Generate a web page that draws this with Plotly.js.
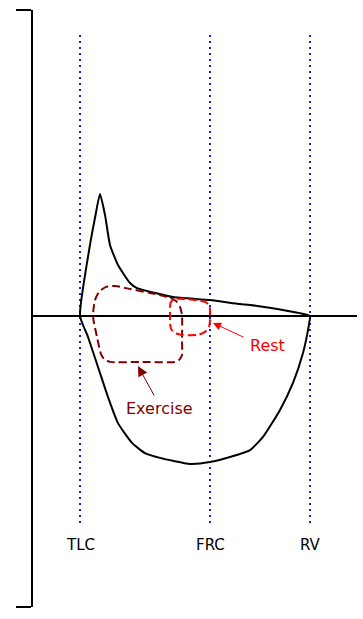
<!DOCTYPE html>
<html>
<head>
<meta charset="utf-8">
<script src="https://cdn.plot.ly/plotly-3.0.1.min.js"></script>
<style>html,body{margin:0;padding:0;background:#fff;}#chart{width:363px;height:619px;}</style>
</head>
<body>
<div id="chart"></div>
<script>
// Lung volume markers (volume units, TLC at 0)
var volumeLabels = ["TLC", "FRC", "RV"];
var volumeValues = [0, 3.9, 6.9];

// Maximal flow-volume loop (TLC -> peak -> RV -> inspiratory limb -> TLC)
var maxLoopVolume = [0, 0.3, 0.45, 0.6, 0.75, 0.9, 1.14, 1.5, 1.71, 2.25, 2.79, 3.9, 4.8, 5.1, 6.09, 6.84, 6.9,
  6.84, 6.69, 6.39, 6.0, 5.49, 5.1, 4.5, 3.9, 3.3, 2.4, 1.95, 1.56, 1.14, 0.84, 0.54, 0.24, 0];
var maxLoopFlow = [0, 2.37, 3.27, 4.07, 3.37, 2.37, 1.7, 1.1, 0.93, 0.77, 0.63, 0.53, 0.4, 0.37, 0.2, 0.03, 0,
  -0.47, -1.23, -2.23, -3.13, -4.03, -4.47, -4.7, -4.87, -4.93, -4.73, -4.57, -4.23, -3.57, -2.7, -1.7, -0.7, 0];

// Exercise tidal loop
var exerciseVolume = [0.39, 0.45, 0.57, 0.78, 1.05, 1.5, 2.1, 2.64, 2.88, 3.0, 3.06, 3.06, 3.06, 2.97, 2.85, 1.8, 0.9, 0.72, 0.63, 0.51, 0.39];
var exerciseFlow = [0, 0.53, 0.8, 0.97, 1.0, 0.9, 0.77, 0.63, 0.5, 0.3, 0.03, -0.8, -1.3, -1.47, -1.53, -1.53, -1.53, -1.43, -1.27, -0.7, 0];

// Resting tidal loop
var restVolume = [2.7, 2.7, 2.73, 2.85, 3.15, 3.75, 3.87, 3.9, 3.9, 3.87, 3.75, 3.54, 3.06, 2.85, 2.73, 2.7, 2.7];
var restFlow = [0, 0.3, 0.47, 0.57, 0.57, 0.47, 0.37, 0.2, -0.13, -0.37, -0.53, -0.63, -0.63, -0.57, -0.43, -0.2, 0];

var xRange = [-1.41, 8.31];
var yRange = [-9.7, 10.2];
var guideTop = 9.37, guideBottom = -7.03, labelY = -7.63;

var FONT = "DejaVu Sans";
var traces = [];
volumeValues.forEach(function (v) {
  traces.push({x: [v, v], y: [guideTop, guideBottom], mode: "lines", hoverinfo: "skip",
    line: {color: "#1a1aee", width: 2, dash: "2px,4px"}});
});
traces.push({x: maxLoopVolume, y: maxLoopFlow, mode: "lines",
  line: {color: "#000", width: 2, shape: "spline", smoothing: 0.5}});
traces.push({x: exerciseVolume, y: exerciseFlow, mode: "lines",
  line: {color: "#800000", width: 2, dash: "8px,4px", shape: "spline", smoothing: 0.6}});
traces.push({x: restVolume, y: restFlow, mode: "lines",
  line: {color: "#ff0000", width: 2, dash: "8px,4px", shape: "spline", smoothing: 0.6}});

var annotations = volumeLabels.map(function (t, i) {
  return {x: volumeValues[i], y: labelY, xref: "x", yref: "y", text: t, showarrow: false,
    font: {family: FONT, size: 15, color: "#000"}};
});
annotations.push({x: 3.99, y: -0.23, ax: 4.95, ay: -0.73, axref: "x", ayref: "y", xref: "x", yref: "y",
  text: "", showarrow: true, arrowhead: 2, arrowsize: 1.6, arrowwidth: 1, arrowcolor: "#ff0000"});
annotations.push({x: 5.61, y: -0.97, xref: "x", yref: "y", text: "Rest", showarrow: false,
  font: {family: FONT, size: 16, color: "#ff0000"}});
annotations.push({x: 1.74, y: -1.67, ax: 2.25, ay: -2.7, axref: "x", ayref: "y", xref: "x", yref: "y",
  text: "", showarrow: true, arrowhead: 2, arrowsize: 2, arrowwidth: 1, arrowcolor: "#800000"});
annotations.push({x: 2.37, y: -3.07, xref: "x", yref: "y", text: "Exercise", showarrow: false,
  font: {family: FONT, size: 16, color: "#800000"}});

var layout = {
  width: 363, height: 619,
  margin: {l: 33, r: 6, t: 10, b: 12, pad: 0},
  paper_bgcolor: "#fff", plot_bgcolor: "#fff",
  showlegend: false,
  xaxis: {range: xRange, showgrid: false, zeroline: false, showline: false, showticklabels: false, ticks: "", fixedrange: true},
  yaxis: {range: yRange, showgrid: false, zeroline: true, zerolinecolor: "#000", zerolinewidth: 2,
    showline: true, linecolor: "#000", linewidth: 2, ticks: "outside", ticklen: 15, tickwidth: 2, tickcolor: "#000",
    tickmode: "array", tickvals: yRange, showticklabels: false, fixedrange: true},
  annotations: annotations
};
Plotly.newPlot("chart", traces, layout, {staticPlot: true, displayModeBar: false});
</script>
</body>
</html>
